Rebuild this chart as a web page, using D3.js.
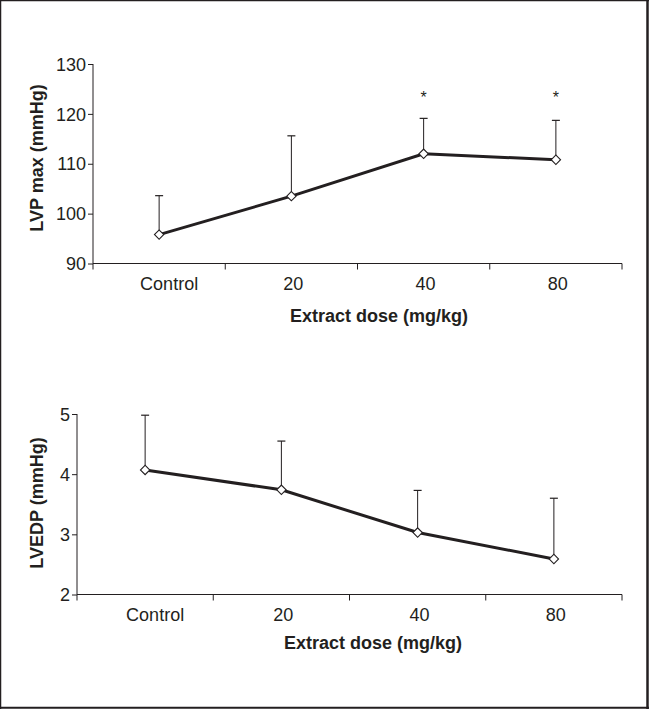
<!DOCTYPE html>
<html><head><meta charset="utf-8">
<script src="https://cdn.jsdelivr.net/npm/d3@7/dist/d3.min.js"></script>
<style>body{margin:0;background:#fff}svg{display:block}text{font-family:"Liberation Sans",Arial,sans-serif;fill:#231f20}</style>
</head><body><svg id="c" width="649" height="709"></svg>
<script>
const categories = ["Control", "20", "40", "80"];
const lvpMax = [95.8, 103.5, 112.0, 110.8];
const lvpMaxErr = [7.8, 12.1, 7.1, 7.9];
const lvpSig = ["", "", "*", "*"];
const lvpTicks = [90, 100, 110, 120, 130];
const lvedp = [4.07, 3.74, 3.03, 2.59];
const lvedpErr = [0.91, 0.81, 0.70, 1.01];
const lvedpTicks = [2, 3, 4, 5];

const svg = d3.select("#c");
const ink = "#231f20";
const border = [
  {x1: 0.5, y1: 0, x2: 0.5, y2: 709, w: 1.5},
  {x1: 0, y1: 0.5, x2: 649, y2: 0.5, w: 1.5},
  {x1: 647.5, y1: 0, x2: 647.5, y2: 709, w: 2.5},
  {x1: 0, y1: 707.8, x2: 649, y2: 707.8, w: 2}
];
svg.selectAll(".bd").data(border).join("line")
  .attr("x1", d => d.x1).attr("y1", d => d.y1).attr("x2", d => d.x2).attr("y2", d => d.y2)
  .attr("stroke", ink).attr("stroke-width", d => d.w);

function panel(cfg) {
  const x = d3.scaleBand().domain(categories).range([cfg.x0, cfg.x1]);
  const y = d3.scaleLinear().domain(cfg.domain).range([cfg.yb, cfg.yt]);
  const g = svg.append("g");
  const ay = g.append("g").attr("transform", `translate(${cfg.x0},0)`)
    .call(d3.axisLeft(y).tickValues(cfg.ticks).tickFormat(d3.format("d")).tickSize(5).tickPadding(2).tickSizeOuter(0));
  ay.select(".domain").remove();
  ay.selectAll("line").attr("stroke", ink);
  ay.selectAll("text").style("font-size", "18px").attr("fill", ink).attr("dy", "0.34em");
  g.append("line").attr("x1", cfg.x0).attr("x2", cfg.x0).attr("y1", cfg.yt).attr("y2", cfg.yb).attr("stroke", ink);
  g.append("line").attr("x1", cfg.x0).attr("x2", cfg.x1).attr("y1", cfg.yb).attr("y2", cfg.yb).attr("stroke", ink);
  const edges = categories.map(c => x(c)).concat([cfg.x1]);
  g.selectAll(".xt").data(edges).join("line")
    .attr("x1", d => d).attr("x2", d => d).attr("y1", cfg.yb).attr("y2", cfg.yb + 6).attr("stroke", ink);
  const cx = c => x(c) + x.bandwidth() / 2;
  g.selectAll(".xl").data(categories).join("text")
    .attr("x", (d, i) => cx(d) + (i === 0 ? 10 : 2)).attr("y", cfg.yb + 26).attr("text-anchor", "middle")
    .style("font-size", "18px").text(d => d);
  const ed = categories.map((c, i) => ({c, v: cfg.vals[i], e: cfg.errs[i]}));
  g.selectAll(".eb").data(ed).join("line")
    .attr("x1", d => cx(d.c)).attr("x2", d => cx(d.c))
    .attr("y1", d => y(d.v)).attr("y2", d => y(d.v + d.e)).attr("stroke", ink).attr("stroke-width", 1);
  g.selectAll(".ec").data(ed).join("line")
    .attr("x1", d => cx(d.c) - 4).attr("x2", d => cx(d.c) + 4)
    .attr("y1", d => y(d.v + d.e)).attr("y2", d => y(d.v + d.e)).attr("stroke", ink).attr("stroke-width", 1.2);
  g.append("path").datum(ed)
    .attr("d", d3.line().x(d => cx(d.c)).y(d => y(d.v)))
    .attr("fill", "none").attr("stroke", ink).attr("stroke-width", 3);
  g.selectAll(".mk").data(ed).join("path")
    .attr("transform", d => `translate(${cx(d.c)},${y(d.v)}) rotate(45)`)
    .attr("d", "M-3.3,-3.3H3.3V3.3H-3.3Z")
    .attr("fill", "#fff").attr("stroke", ink).attr("stroke-width", 1.1);
  if (cfg.sig) {
    g.selectAll(".sg").data(categories.map((c, i) => ({c, s: cfg.sig[i]})).filter(d => d.s)).join("text")
      .attr("x", d => cx(d.c)).attr("y", cfg.sigY).attr("text-anchor", "middle")
      .style("font-size", "16px").text(d => d.s);
  }
  g.append("text").attr("transform", `translate(${cfg.ylx},${cfg.yly}) rotate(-90)`)
    .attr("text-anchor", "middle").style("font-size", "18px").style("font-weight", "bold").text(cfg.ylabel);
  g.append("text").attr("x", cfg.xlx).attr("y", cfg.xly).attr("text-anchor", "middle")
    .style("font-size", "18px").style("font-weight", "bold").text("Extract dose (mg/kg)");
}

panel({x0: 93, x1: 622, yt: 64, yb: 263.5, domain: [90, 130], ticks: lvpTicks,
  vals: lvpMax, errs: lvpMaxErr, sig: lvpSig, sigY: 103,
  ylabel: "LVP max (mmHg)", ylx: 43, yly: 158, xlx: 379, xly: 322});
panel({x0: 77, x1: 622, yt: 414, yb: 594.5, domain: [2, 5], ticks: lvedpTicks,
  vals: lvedp, errs: lvedpErr, sig: null,
  ylabel: "LVEDP (mmHg)", ylx: 43, yly: 503, xlx: 373, xly: 649});
</script></body></html>
